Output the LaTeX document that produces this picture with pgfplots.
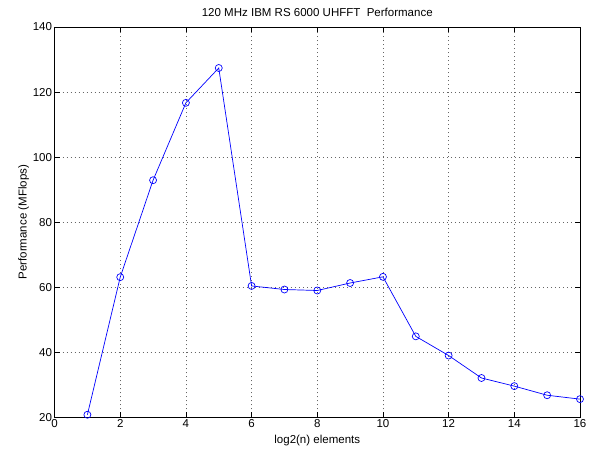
\documentclass[border=0pt]{standalone}
\usepackage{fontspec}
\setmainfont{Liberation Sans}
\usepackage{pgfplots}
\pgfplotsset{compat=1.18}

\begin{document}
\begin{tikzpicture}
	\begin{axis}[
		name=main,
		scale only axis,
		width=525pt,
		height=390pt,
		xmin=0, xmax=16,
		ymin=20, ymax=140,
		xtick distance=2,
		ytick distance=20,
		tick align=inside,
		major tick length=5pt,
		xtick pos=both, ytick pos=both,
		grid=major,
		grid style={dash pattern=on 1pt off 3pt, black!60, line width=0.6pt},
		axis line style={line width=0.7pt},
		tick style={black, line width=0.6pt},
		ticklabel style={font=\fontsize{11.5}{13}\selectfont},
		xticklabel style={yshift=1pt},
		yticklabel style={xshift=1pt},
		/pgf/number format/assume math mode=true,
		title={120 MHz IBM RS 6000 UHFFT~~Performance},
		title style={font=\fontsize{11.5}{13}\selectfont, yshift=1pt},
		xlabel={log2(n) elements},
		ylabel={Performance (MFlops)},
		label style={font=\fontsize{11.5}{13}\selectfont},
		xlabel style={yshift=0pt},
		ylabel style={yshift=-3pt}]
		\addplot[blue, line width=0.7pt, mark=o, mark size=3.5pt, mark options={solid, line width=0.7pt}]
		coordinates{
			(1,20.8) (2,63.1) (3,92.9) (4,116.7) (5,127.4)
			(6,60.4) (7,59.3) (8,59.0) (9,61.3) (10,63.2)
			(11,44.9) (12,39.0) (13,32.1) (14,29.6) (15,26.8) (16,25.6)
		};
	\end{axis}
	% page margins as in the reference
	\path (main.south west) ++(-54.5pt,-32pt) coordinate (bl);
	\path (main.north east) ++(12pt,27pt) coordinate (tr);
	\path[use as bounding box] (bl) rectangle (tr);
\end{tikzpicture}
\end{document}
